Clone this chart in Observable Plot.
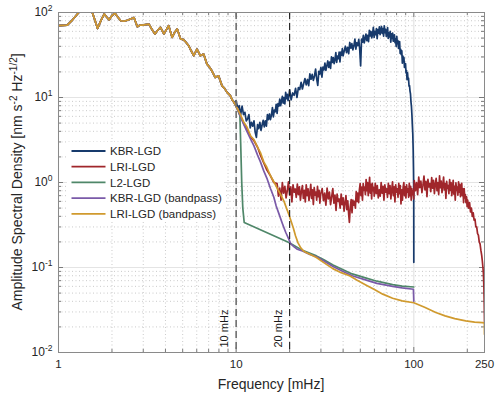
<!DOCTYPE html>
<html><head><meta charset="utf-8">
<script src="https://cdn.jsdelivr.net/npm/d3@7"></script>
<script src="https://cdn.jsdelivr.net/npm/@observablehq/plot@0.6"></script>
<style>body{margin:0;background:#fff;}</style>
</head><body><div id="chart"></div>
<script>
// ---------- data (frequency mHz, ASD) ----------
const seriesNames = ["KBR-LGD","LRI-LGD","L2-LGD","KBR-LGD (bandpass)","LRI-LGD (bandpass)"];
const seriesColors = ["#173a6c","#a0262b","#4f8769","#7a5aa8","#d09a2e"];

// common low-frequency spectrum (all curves overlap below 10 mHz)
const lowSpectrum = [[1.0,70],[1.12,71],[1.2,82],[1.3,100],[1.38,108],[1.46,110],[1.54,104],[1.6,82],[1.66,65],[1.74,82],[1.81,96],[1.87,88],[1.93,82],[2.0,92],[2.08,98],[2.16,88],[2.24,80],[2.34,79],[2.44,81],[2.55,84],[2.66,87],[2.78,68],[2.87,71],[2.96,71],[3.1,72],[3.23,73],[3.36,63],[3.49,56],[3.6,61],[3.75,67],[3.92,56],[4.05,63],[4.17,70],[4.36,51],[4.5,58],[4.66,64],[4.86,49],[5.05,48],[5.2,45],[5.41,40.6],[5.6,35],[5.77,31],[6.02,37],[6.28,31],[6.56,32.4],[6.85,24.7],[7.05,23],[7.3,20.6],[7.62,17.2],[7.96,18],[8.33,13.7],[8.6,12.8],[8.89,11.5],[9.27,10.5],[9.5,9.4],[9.74,8.7]];

const kbrTail = [[10.0,9.2],[10.2,7.5],[10.4,8.0],[10.6,6.3],[10.8,7.9],[11.0,6.3],[11.2,6.7],[11.4,5.3],[11.6,5.6],[11.8,6.3],[12.0,4.4],[12.2,5.1],[12.4,4.6],[12.6,5.3],[12.8,3.9],[13.0,3.4],[13.2,4.8],[13.4,4.3],[13.6,5.1],[13.8,4.1],[14.0,4.75],[14.2,5.4],[14.4,4.5],[14.6,5.3],[14.8,4.6],[15.0,6.3],[15.2,5.5],[15.4,6.4],[15.6,5.5],[15.8,6.2],[16.0,7.6],[16.2,5.9],[16.4,7.1],[16.6,6.8],[16.8,8.3],[17.0,6.5],[17.2,8.5],[17.4,7.9],[17.6,9.6],[17.8,8.0],[18.0,9.1],[18.2,10.3],[18.4,8.6],[18.6,10.0],[18.8,8.4],[19.0,11.5],[19.2,9.7],[19.4,10.9],[19.6,9.2],[19.8,10.3],[20.0,12.3],
[20.4,9.4],[20.8,11.3],[21.2,10.6],[21.6,12.8],[22.0,10.0],[22.4,13.1],[22.8,12.4],[23.2,15.1],[23.6,12.6],[24.0,14.6],[24.4,16.7],[24.8,14.1],[25.2,16.3],[25.6,13.8],[26.0,19.0],[26.4,16.4],[26.8,18.7],[27.2,15.9],[27.6,17.9],[28.0,21.6],[28.4,16.6],[28.8,13.9],[29.2,20.3],[29.6,18.9],[30.0,22.6],[30.4,17.4],[30.8,22.8],[31.2,21.1],[31.6,25.4],[32.0,20.9],[32.4,23.7],[32.8,26.9],[33.2,22.6],[33.6,26.1],[34.0,22.0],[34.4,30.1],[34.8,25.9],[35.2,29.5],[35.6,25.0],[36.0,28.0],[36.4,33.7],[36.8,25.8],[37.2,30.7],[37.6,28.6],[38.0,34.1],[38.4,26.2],[38.8,34.1],[39.2,31.5],[39.6,37.7],[40.0,30.9],
[40.6,35.4],[41.2,40.1],[41.8,33.8],[42.4,38.9],[43.0,32.7],[43.6,44.4],[44.2,38.0],[44.8,43.0],[45.4,36.4],[46.0,40.6],[46.6,48.7],[47.2,37.1],[47.8,44.1],[48.4,40.8],[49.0,48.4],[49.6,37.0],[50.2,23.5],[50.8,48.8],[51.4,44.8],[52.0,53.7],[52.6,44.0],[53.2,49.5],[53.8,55.8],[54.4,46.6],[55.0,53.8],[55.6,45.3],[56.2,61.8],[56.8,53.1],[57.4,59.8],[58.0,50.4],[58.6,56.0],[59.2,66.9],[59.8,50.9],[60.4,59.8],[61.0,55.0],[61.6,64.7],[62.2,49.1],[62.8,63.0],[63.4,57.3],[64.0,67.8],[64.6,55.0],[65.2,61.4],[65.8,68.5],[66.4,56.7],[67.0,64.5],[67.6,52.6],[68.2,69.5],[68.8,57.8],[69.4,63.5],[70.0,52.2],[70.6,56.8],[71.2,66.5],[71.8,49.5],[72.4,57.3],[73.0,51.7],[73.6,60.0],[74.2,44.7],[74.8,56.0],[75.4,49.7],[76.0,57.4],[76.6,45.9],[77.2,50.2],[77.8,54.7],[78.4,44.1],[79.0,48.9],[79.6,39.8],[80.2,52.4],[80.8,43.1],[81.4,46.7],[82.0,37.8],[82.6,40.1],[83.2,45.6],[83.8,33.0],[84.4,36.9],[85.0,32.0],[85.6,35.4],[86.2,25.3],[86.8,30.7],[87.4,26.4],[88.0,29.4],[88.6,22.6],[89.2,23.8],[89.8,25.1],[90.4,19.5],[91.0,20.8],[91.6,16.2],[92.2,19.5],[92.8,16.3],[93.4,16.8],[94.0,13.6],[94.6,13.8],[95.2,11.9],[95.8,11.0],[96.4,8.9],[97.0,7.8],[97.6,6.2],[98.2,4.6],[98.7,3.7],[99.2,2.4],[99.6,1.4],[99.9,0.8],[100,0.115]];

const lriTail = [[10.2,7.3],[10.6,6.0],[11.0,5.0],[11.5,4.2],[12.1,3.4],[12.6,3.1],[13.2,2.6],[13.7,2.1],[14.3,1.7],[14.9,1.4],[15.6,1.2],[16.3,1.0],
[17.0,0.97],[17.3,0.69],[17.6,0.86],[17.9,0.62],[18.2,1.0],[18.5,0.75],[18.8,0.9],[19.1,0.66],[19.4,0.8],[19.7,1.02],[20.0,0.71],[20.3,0.89],[20.6,0.59],[20.9,0.94],[21.2,0.77],[21.5,0.84],[21.8,0.67],[22.1,0.96],[22.4,0.72],[22.7,0.89],[23.0,0.62],[23.3,0.79],[23.6,0.92],[23.9,0.65],[24.2,0.81],[24.5,0.59],[24.8,0.94],[25.1,0.7],[25.4,0.84],[25.7,0.61],[26.0,0.74],[26.3,0.95],[26.6,0.65],[26.9,0.82],[27.2,0.55],[27.5,0.87],[27.8,0.71],[28.1,0.77],[28.4,0.62],[28.7,0.9],[29.0,0.68],[29.3,0.81],[29.6,0.57],[29.9,0.73],
[30.5,0.85],[31.0,0.61],[31.5,0.75],[32.0,0.54],[32.5,0.86],[33.0,0.64],[33.5,0.77],[34.0,0.55],[34.5,0.68],[35.0,0.85],[35.5,0.57],[36.0,0.71],[36.5,0.47],[37.0,0.73],[37.5,0.6],[38.0,0.64],[38.5,0.5],[39.0,0.73],[39.5,0.55],[40.0,0.66],[40.5,0.46],[41.0,0.58],[41.5,0.7],[42.0,0.48],[42.5,0.61],[43.0,0.42],[43.4,0.34],[43.9,0.52],[44.4,0.63],[44.9,0.44],[45.4,0.62],[45.9,0.54],[46.4,0.6],[46.9,0.5],[47.4,0.78],[47.9,0.6],[48.4,0.75],[48.9,0.58],[49.4,0.82],[49.9,0.97],[50.4,0.7],[50.9,0.88],[51.4,0.62],[51.9,0.97],[52.4,0.81],[52.9,0.88],[53.4,0.72],[53.9,1.08],[54.4,0.8],[54.9,1.0],[55.4,0.7],[55.9,0.88],[56.4,1.15],[56.9,0.75],[57.4,0.95],[57.9,0.64],[58.4,0.98],[58.9,0.8],[59.4,0.87],[59.9,0.69],
[60.7,0.98],[61.5,0.74],[62.3,0.92],[63.1,0.66],[63.9,0.82],[64.7,0.69],[65.5,1.0],[66.3,0.75],[67.1,0.9],[67.9,0.62],[68.7,0.94],[69.5,0.77],[70.3,0.84],[71.1,0.67],[71.9,0.98],[72.7,0.74],[73.5,0.92],[74.3,0.64],[75.1,0.82],[75.9,1.02],[76.7,0.7],[77.5,0.89],[78.3,0.59],[79.1,0.94],[79.9,0.77],[80.7,0.84],[81.5,0.67],[82.3,0.98],[83.1,0.74],[83.9,0.92],[84.7,0.56],[85.5,0.82],[86.3,0.62],[87.1,0.88],[87.9,1.0],[88.7,0.7],[89.5,0.89],[90.3,0.66],[91.1,0.94],[91.9,0.77],[92.7,0.84],[93.5,0.67],[94.3,0.98],[95.1,0.7],[95.9,0.9],[96.7,0.62],[97.5,0.85],[98.3,0.72],[99.1,0.8],[99.9,0.64],
[100.6,1.05],[102.1,0.8],[103.6,1.0],[105.1,0.72],[106.6,1.16],[108.1,0.87],[109.6,1.04],[111.1,0.76],[112.6,0.93],[114.1,1.19],[115.6,0.82],[117.1,1.03],[118.6,0.68],[120.1,1.09],[121.6,0.89],[123.1,0.97],[124.6,0.78],[126.1,1.14],[127.6,0.86],[129.1,1.06],[130.6,0.74],[132.1,0.95],[133.6,1.12],[135.1,0.8],[136.6,1.0],[138.1,0.72],[139.6,1.2],[141.1,0.87],[142.6,1.04],[144.1,0.76],[145.6,0.93],[147.1,1.16],[148.6,0.82],[150.1,0.97],[151.6,0.65],[153.1,1.03],[154.6,0.85],[156.1,0.92],[157.6,0.74],[159.1,1.08],[160.6,0.81],[162.1,1.0],[163.6,0.7],[165.1,0.86],[166.6,1.06],[168.1,0.73],[169.6,0.9],[171.1,0.62],[172.6,0.99],[174.1,0.81],[175.6,0.88],[177.1,0.71],[178.6,1.02],[180.1,0.77],[181.6,0.95],[183.1,0.68],[184.6,0.8],[186.1,0.98],[187.6,0.7],[189.1,0.84],[190.6,0.58],[192.1,0.85],[193.6,0.66],[195.1,0.72],[196.6,0.58],[198.1,0.68],[199.6,0.52],[201,0.62],[203.5,0.5],[206,0.58],[208.5,0.45],[211,0.5],[213.5,0.4],[216,0.44],[218.5,0.36],[221,0.37],[223.5,0.3],[226,0.3],[228.5,0.25],[231,0.24],[233.5,0.2],[236,0.19],[238.5,0.16],[241,0.14],[243,0.12],[245,0.1],[246.5,0.085],[248,0.06],[249,0.04],[249.6,0.03],[250,0.023]];

const l2Tail = [[10.2,7.2],[10.5,6.1],[10.6,3.0],[10.75,1.0],[10.9,0.5],[11.1,0.338],[19.8,0.197],[23.8,0.158],[28.3,0.137],[31,0.124],[35.1,0.107],[40,0.094],[45,0.084],[54,0.075],[62,0.069],[76,0.063],[86,0.0605],[100,0.059]];

const kbrBpTail = [[10.2,7.2],[10.6,5.9],[11.0,4.9],[11.5,4.0],[12.1,3.2],[12.6,2.7],[13.2,2.1],[13.7,1.75],[14.3,1.37],[14.9,1.12],[15.6,0.85],[16.3,0.67],[16.8,0.53],[17.4,0.43],[18.2,0.33],[19.0,0.26],[19.7,0.22],[20.3,0.19],[21.2,0.175],[22.1,0.164],[23.8,0.155],[26,0.142],[28.3,0.134],[31,0.12],[35.1,0.103],[40,0.09],[45,0.08],[54,0.071],[62,0.065],[76,0.060],[86,0.0575],[99.5,0.0555],[100,0.040]];

const lriBpTail = [[10.2,7.3],[10.6,6.2],[11.0,5.2],[11.5,4.5],[12.1,3.5],[12.6,3.2],[13.2,2.6],[13.7,2.25],[14.3,1.75],[14.9,1.5],[15.6,1.2],[16.3,1.02],[17.1,0.84],[17.8,0.72],[18.6,0.6],[19.2,0.5],[19.8,0.42],[20.3,0.36],[21.0,0.29],[21.6,0.235],[22.3,0.195],[23.1,0.17],[24.0,0.156],[24.6,0.151],[26,0.143],[28.3,0.131],[31,0.115],[35,0.097],[39,0.087],[43.5,0.080],[48,0.071],[54,0.062],[60,0.055],[66.9,0.0486],[76,0.0435],[86,0.0405],[100,0.0385],[115,0.034],[133,0.0296],[150,0.027],[170,0.025],[196,0.0236],[220,0.0228],[243,0.0225],[249.5,0.0222],[250,0.0164]];

const xMajor = [1,10,100];
const xMinor = [2,3,4,5,6,7,8,9,20,30,40,50,60,70,80,90,200];
const xTickLabels = [1,10,100,250];
const yMajor = [0.01,0.1,1,10,100];
const yMinor = [0.02,0.03,0.04,0.05,0.06,0.07,0.08,0.09,0.2,0.3,0.4,0.5,0.6,0.7,0.8,0.9,2,3,4,5,6,7,8,9,20,30,40,50,60,70,80,90];
const bandEdges = [10,20];

// ---------- build ----------
const font = "'Liberation Sans', Arial, Helvetica, sans-serif";
const W = 500, H = 399, mL = 58, mR = 16, mT = 12, mB = 47;
const pw = W - mL - mR, ph = H - mT - mB;
const rows = (pairs) => pairs.map(([f, v]) => ({f, v}));
const tails = [kbrTail, lriTail, l2Tail, kbrBpTail, lriBpTail];
const series = tails.map(t => rows(lowSpectrum.concat(t)));

const lineMarks = series.map((d, i) =>
  Plot.line(d, {x: "f", y: "v", stroke: seriesColors[i], strokeWidth: 1.7, clip: true, strokeLinejoin: "round"}));

const plot = Plot.plot({
  width: W, height: H, marginLeft: mL, marginRight: mR, marginTop: mT, marginBottom: mB,
  style: {fontFamily: font, fontSize: "11.5px", color: "#262626", background: "#fff"},
  x: {type: "log", domain: [1, 250]},
  y: {type: "log", domain: [0.01, 100]},
  marks: [
    Plot.ruleX(xMinor, {stroke: "#bdbdbd", strokeDasharray: "1,2.5", strokeWidth: 0.8}),
    Plot.ruleY(yMinor, {stroke: "#bdbdbd", strokeDasharray: "1,2.5", strokeWidth: 0.8}),
    Plot.ruleX(xMajor, {stroke: "#e4e4e4", strokeWidth: 1.2}),
    Plot.ruleY(yMajor, {stroke: "#e4e4e4", strokeWidth: 1.2}),
    // inward ticks
    Plot.ruleX(xMinor, {stroke: "#7a7a7a", insetTop: ph - 3}),
    Plot.ruleX(xMinor, {stroke: "#7a7a7a", insetBottom: ph - 3}),
    Plot.ruleX(xMajor, {stroke: "#7a7a7a", insetTop: ph - 5}),
    Plot.ruleX(xMajor, {stroke: "#7a7a7a", insetBottom: ph - 5}),
    Plot.ruleY(yMinor, {stroke: "#7a7a7a", insetRight: pw - 3}),
    Plot.ruleY(yMinor, {stroke: "#7a7a7a", insetLeft: pw - 3}),
    Plot.ruleY(yMajor, {stroke: "#7a7a7a", insetRight: pw - 5}),
    Plot.ruleY(yMajor, {stroke: "#7a7a7a", insetLeft: pw - 5}),
    ...lineMarks,
    Plot.ruleX([bandEdges[0]], {stroke: "#707070", strokeWidth: 1.6, strokeDasharray: "7,4"}),
    Plot.ruleX([bandEdges[1]], {stroke: "#1a1a1a", strokeWidth: 1.1, strokeDasharray: "7,4"}),
    Plot.text(bandEdges, {x: d => d, text: d => `${d} mHz`, frameAnchor: "bottom", rotate: -90,
      textAnchor: "start", dx: -8, dy: -5, fontSize: 11, fill: "#1a1a1a"}),
    Plot.frame({stroke: "#8a8a8a"}),
    Plot.axisX({ticks: xTickLabels, tickSize: 0, tickPadding: 7, tickFormat: d => String(d), label: null, fontSize: 11.5}),
    Plot.axisY({ticks: yMajor, tickSize: 0, tickPadding: 6, tickFormat: d => String(Math.round(Math.log10(d))), label: null, fontSize: 12})
  ]
});

const svg = d3.select(plot);
// superscript y tick labels
svg.selectAll('[aria-label="y-axis tick label"] text').each(function() {
  const e = this.textContent;
  const t = d3.select(this);
  t.text(null);
  t.append("tspan").text("10");
  t.append("tspan").attr("font-size", 8.5).attr("dy", -5).text(e);
});
// axis titles
svg.append("text").attr("x", mL + pw / 2).attr("y", 389).attr("text-anchor", "middle")
  .attr("font-family", font).attr("font-size", 14).attr("fill", "#262626").text("Frequency [mHz]");
const yl = svg.append("text").attr("transform", `translate(21.5,${mT + ph / 2}) rotate(-90)`)
  .attr("text-anchor", "middle").attr("font-family", font).attr("font-size", 14).attr("fill", "#262626");
yl.append("tspan").text("Amplitude Spectral Density [nm s");
yl.append("tspan").attr("font-size", 10).attr("dy", -5).text("-2");
yl.append("tspan").attr("dy", 5).text(" Hz");
yl.append("tspan").attr("font-size", 10).attr("dy", -5).text("-1/2");
yl.append("tspan").attr("dy", 5).text("]");
// legend
const lg = svg.append("g").attr("font-family", font).attr("font-size", 11.5).attr("fill", "#262626")
  .attr("text-anchor", "start");
lg.append("rect").attr("x", 67).attr("y", 142).attr("width", 157).attr("height", 80).attr("fill", "#fff");
seriesNames.forEach((n, i) => {
  const y = 151 + i * 15.7;
  lg.append("line").attr("x1", 71.5).attr("x2", 105.5).attr("y1", y).attr("y2", y)
    .attr("stroke", seriesColors[i]).attr("stroke-width", 1.8);
  lg.append("text").attr("x", 110).attr("y", y).attr("dy", "0.36em").attr("text-anchor", "start").text(n);
});
document.getElementById("chart").append(plot);
</script>
</body></html>
